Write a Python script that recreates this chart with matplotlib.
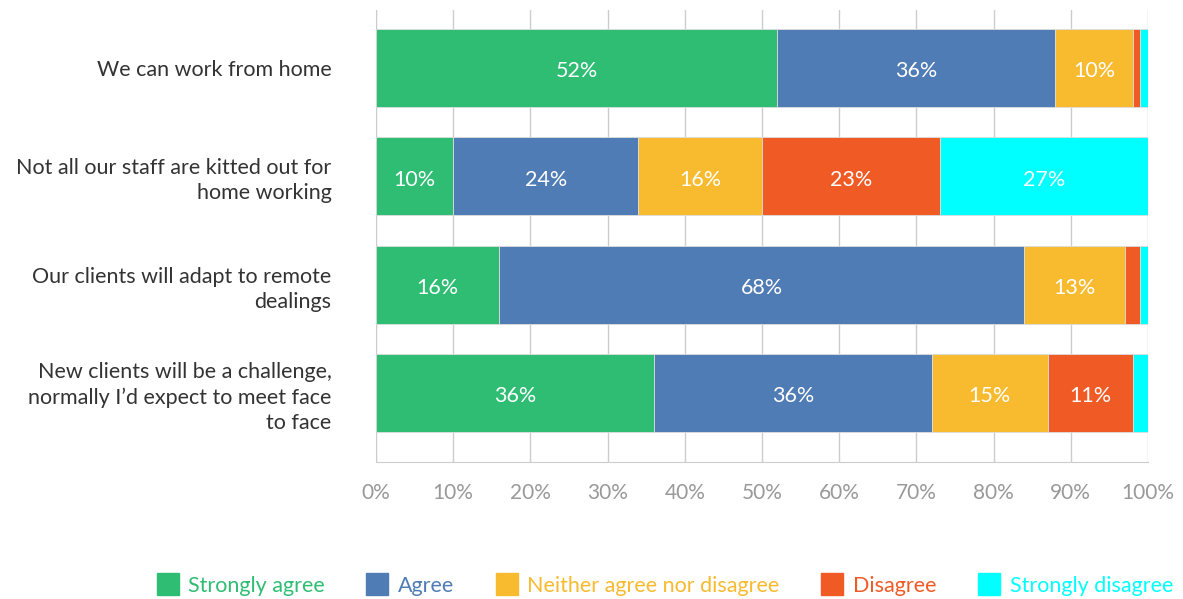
import matplotlib.pyplot as plt
from matplotlib.lines import Line2D

plt.rcParams['font.family'] = ['Lato', 'DejaVu Sans']

statements = [
    'We can work from home',
    'Not all our staff are kitted out for\nhome working',
    'Our clients will adapt to remote\ndealings',
    'New clients will be a challenge,\nnormally I\u2019d expect to meet face\nto face',
]
responses = ['Strongly agree', 'Agree', 'Neither agree nor disagree',
             'Disagree', 'Strongly disagree']
strongly_agree = [52, 10, 16, 36]
agree = [36, 24, 68, 36]
neither = [10, 16, 13, 15]
disagree = [1, 23, 2, 11]
strongly_disagree = [1, 27, 1, 2]
x_ticks = [0, 10, 20, 30, 40, 50, 60, 70, 80, 90, 100]

colors = ['#2EBD72', '#507CB6', '#F8BA2E', '#F05A24', '#00FFFF']
series = [strongly_agree, agree, neither, disagree, strongly_disagree]

fig = plt.figure(figsize=(11.83, 5.99), dpi=100)
ax = fig.add_axes([0.3178, 0.2287, 0.6526, 0.7546])

ypos = list(range(len(statements)))
left = [0] * len(statements)
for vals, col in zip(series, colors):
    ax.barh(ypos, vals, left=left, height=0.72, color=col,
            edgecolor='#dddddd', linewidth=0.6, zorder=3)
    # percentage labels inside the wider segments
    for y, l, v in zip(ypos, left, vals):
        if v >= 5:
            ax.text(l + v / 2, y + 0.03, f'{v}%', ha='center', va='center',
                    color='white', fontsize=15.5, zorder=4)
    left = [a + b for a, b in zip(left, vals)]

ax.set_xlim(0, 100)
ax.set_ylim(3.636, -0.535)
ax.set_xticks(x_ticks)
ax.set_xticklabels([f'{t}%' for t in x_ticks])
ax.set_yticks(ypos)
ax.set_yticklabels(statements, fontsize=15.5, color='#333333', linespacing=1.3)
ax.tick_params(axis='x', colors='#999999', labelsize=15, length=0, pad=15)
ax.tick_params(axis='y', length=0, pad=32)
ax.xaxis.grid(True, color='#cccccc', linewidth=1, zorder=0)
for s in ['top', 'right']:
    ax.spines[s].set_visible(False)
for s in ['left', 'bottom']:
    ax.spines[s].set_color('#cccccc')

handles = [Line2D([], [], marker='s', linestyle='none', markersize=16,
                  markerfacecolor=c, markeredgecolor=c) for c in colors]
leg = fig.legend(handles, responses, loc='center', ncol=5,
                 bbox_to_anchor=(0.562, 0.022), frameon=False,
                 fontsize=15.5, handlelength=1.0, handletextpad=0.45,
                 columnspacing=1.95)
for txt, c in zip(leg.get_texts(), colors):
    txt.set_color(c)

fig.savefig('out.png', dpi=100)
